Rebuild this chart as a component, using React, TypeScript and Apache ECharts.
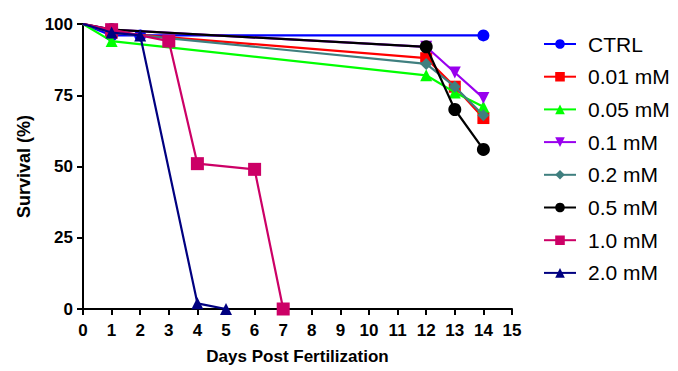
import React, { useEffect, useRef } from "react";
import * as echarts from "echarts";

const seriesNames = ["CTRL", "0.01 mM", "0.05 mM", "0.1 mM", "0.2 mM", "0.5 mM", "1.0 mM", "2.0 mM"];
const colors = ["#0000FF", "#FF0000", "#00FF00", "#9900EE", "#3F7F7F", "#000000", "#CC0066", "#000080"];
const symbols = ["circle", "rect", "triangle", "path://M0,0 L10,0 L5,9 Z", "diamond", "circle", "rect", "triangle"];
const symbolSizes = [12, 12, 12, 12, 12, 13, 13, 12];

const ctrl = [[0, 100], [1, 96], [2, 96], [14, 96]];
const mM001 = [[0, 100], [1, 97], [12, 88], [13, 78], [14, 67]];
const mM005 = [[0, 100], [1, 94], [12, 82], [13, 76], [14, 71]];
const mM01 = [[0, 100], [1, 98], [12, 92], [13, 83], [14, 74]];
const mM02 = [[0, 100], [1, 97], [12, 86], [13, 78], [14, 68]];
const mM05 = [[0, 100], [1, 98], [12, 92], [13, 70], [14, 56]];
const mM10 = [[0, 100], [1, 98], [3, 94], [4, 51], [6, 49], [7, 0]];
const mM20 = [[0, 100], [1, 97], [2, 96], [4, 2], [5, 0]];
const allData = [ctrl, mM001, mM005, mM01, mM02, mM05, mM10, mM20];

const xLabel = "Days Post Fertilization";
const yLabel = "Survival (%)";

const FONT = "Liberation Sans, Arial, sans-serif";

export default function App() {
  const ref = useRef<HTMLDivElement>(null);
  useEffect(() => {
    if (!ref.current) return;
    const chart = echarts.init(ref.current, null, { renderer: "svg" });
    const axisCommon = {
      axisLine: { show: true, lineStyle: { color: "#000", width: 2 } },
      axisTick: { show: true, length: 6, lineStyle: { color: "#000", width: 2 } },
      splitLine: { show: false },
    };
    const labelStyle = { color: "#000", fontWeight: "bold", fontSize: 17, fontFamily: FONT };
    chart.setOption({
      animation: false,
      grid: { left: 83, right: 166, top: 24, bottom: 62, containLabel: false },
      xAxis: {
        type: "value", min: 0, max: 15, interval: 1,
        name: xLabel, nameLocation: "middle", nameGap: 39,
        nameTextStyle: { color: "#000", fontWeight: "bold", fontSize: 17, fontFamily: FONT },
        ...axisCommon,
        axisLabel: { ...labelStyle, margin: 13 },
      },
      yAxis: {
        type: "value", min: 0, max: 100, interval: 25,
        name: yLabel, nameLocation: "middle", nameGap: 50,
        nameTextStyle: { color: "#000", fontWeight: "bold", fontSize: 18, fontFamily: FONT },
        ...axisCommon,
        axisLabel: { ...labelStyle, margin: 10 },
      },
      legend: {
        orient: "vertical", left: 538, top: 28,
        itemWidth: 32, itemHeight: 12, itemGap: 10.7,
        textStyle: { color: "#000", fontSize: 21, lineHeight: 22, fontFamily: FONT, padding: [0, 0, 0, 7] },
        data: seriesNames,
      },
      series: allData.map((d, i) => ({
        name: seriesNames[i],
        type: "line",
        data: d.map((p) => (p[0] === 0 ? { value: p, symbol: "none" } : { value: p })),
        symbol: symbols[i],
        symbolSize: symbolSizes[i],
        showAllSymbol: true,
        color: colors[i],
        lineStyle: { color: colors[i], width: 2.2 },
        itemStyle: { color: colors[i] },
        z: 2 + i,
      })),
    });
    return () => chart.dispose();
  }, []);
  return <div ref={ref} style={{ position: "absolute", left: 0, top: 0, width: 678, height: 371 }} />;
}
